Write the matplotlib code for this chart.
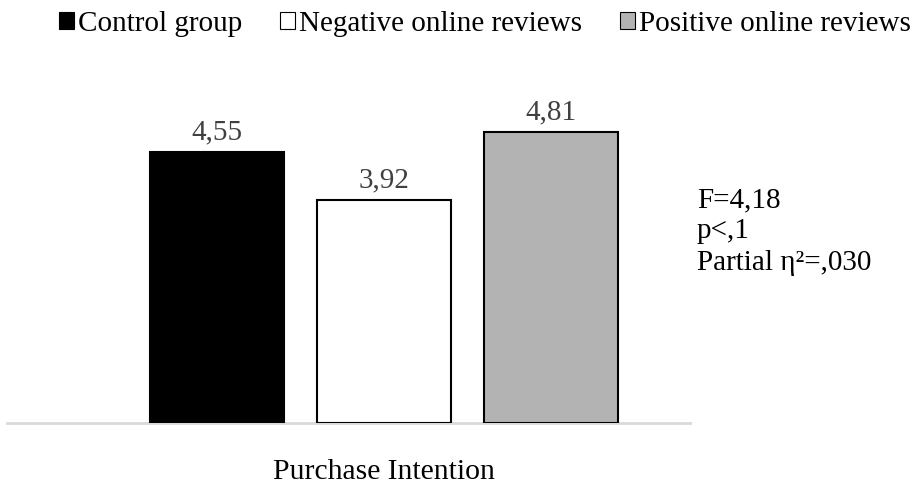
import matplotlib
matplotlib.use("Agg")
import matplotlib.pyplot as plt
from matplotlib.patches import Patch

plt.rcParams['font.family'] = ['Liberation Serif', 'DejaVu Serif']

groups = ["Control group", "Negative online reviews", "Positive online reviews"]
values = [4.55, 3.92, 4.81]
value_labels = ["4,55", "3,92", "4,81"]
colors = ["#000000", "#ffffff", "#b3b3b3"]
category = "Purchase Intention"
stats_lines = ["F=4,18", "p<,1", "Partial η²=,030"]

W, H = 919, 484
fig = plt.figure(figsize=(W / 100, H / 100), dpi=100)

# axes in pixel terms: x from 7 to 690, y from 422.5 (baseline) up to 50
left, right = 7, 690
bottom_px, top_px = 422.5, 50
ax = fig.add_axes([left / W, 1 - bottom_px / H, (right - left) / W, (bottom_px - top_px) / H])

unit = 167.0
x0 = -(217 - left) / unit
ax.set_xlim(x0, x0 + (right - left) / unit)
ymin = 1.0
ax.set_ylim(ymin, ymin + (bottom_px - top_px) / 76.2)

for i, (v, c) in enumerate(zip(values, colors)):
    ec = c if i == 0 else "#000000"
    ax.bar(i, v - ymin, bottom=ymin, width=0.8, color=c, edgecolor=ec, linewidth=1.5, zorder=3)
    ax.text(i, v + 0.09, value_labels[i], ha="center", va="bottom", fontsize=21, color="#404040")

for s in ["top", "right", "left"]:
    ax.spines[s].set_visible(False)
ax.spines["bottom"].set_color("#d9d9d9")
ax.spines["bottom"].set_linewidth(2)
ax.set_yticks([])
ax.set_xticks([1])
ax.set_xticklabels([category], fontsize=21.3)
ax.tick_params(axis="x", length=0, pad=26)

# stats text
for k, line in enumerate(stats_lines):
    fig.text(697 / W, 1 - (207 + 31.5 * k) / H, line, ha="left", va="baseline", fontsize=21, color="#000000")

handles = [Patch(facecolor=c, edgecolor=("#000000" if i else c), linewidth=0.8) for i, c in enumerate(colors)]
fig.legend(handles, groups, loc="center", bbox_to_anchor=(485 / W, 1 - 24 / H), ncol=3, frameon=False,
           fontsize=21, handlelength=0.5, handleheight=0.5, handletextpad=0.15, columnspacing=1.3)

fig.savefig("out.png", dpi=100)
